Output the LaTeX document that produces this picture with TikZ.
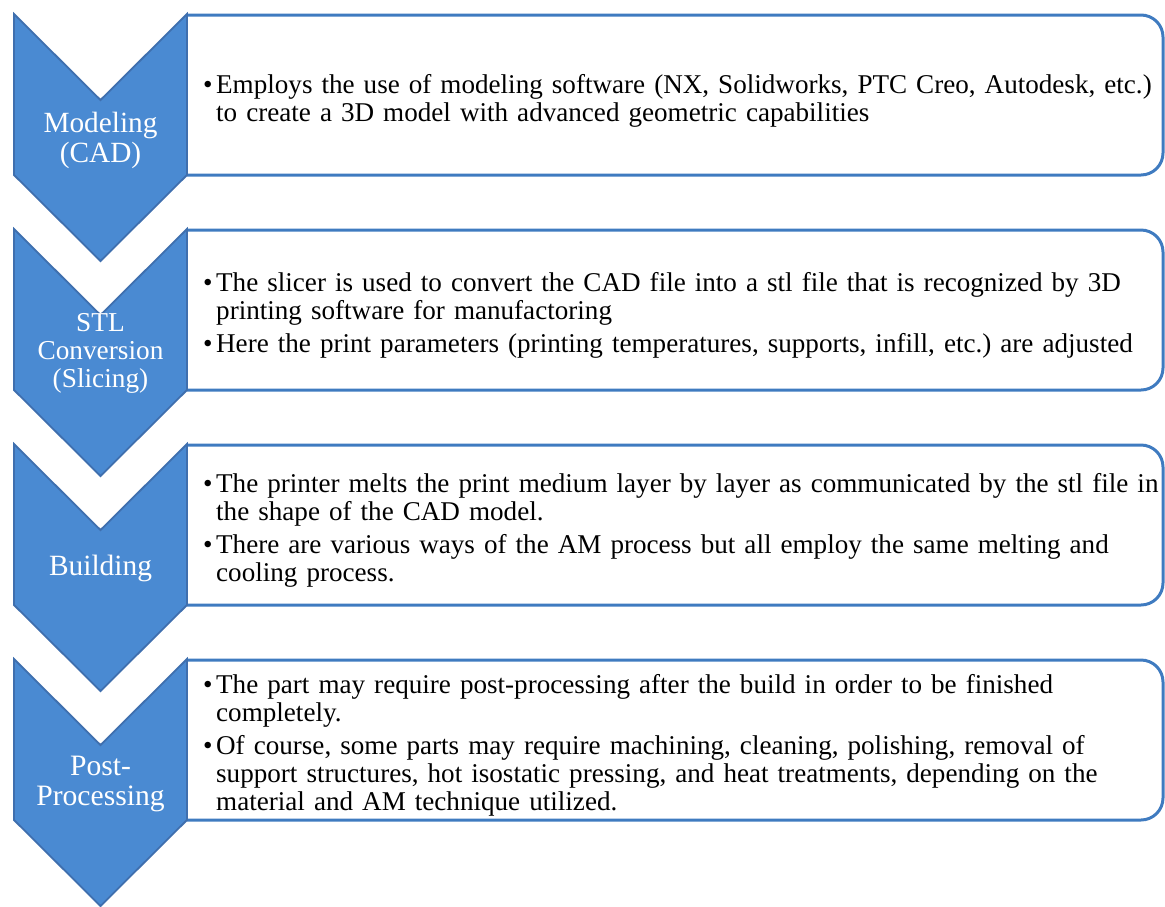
\documentclass[tikz,border=0pt]{standalone}
\usepackage{fontspec}
\setmainfont{Liberation Serif}
\usepackage{xcolor}
\usepackage{tikz}
\definecolor{chevronfill}{HTML}{4A8AD2}
\definecolor{chevronline}{HTML}{3F6FAE}
\definecolor{boxline}{HTML}{3F7BC0}

% one bullet with its hanging lines
\newcommand{\stepitem}[1]{\par\hangindent=13pt\hangafter=1\noindent\makebox[13pt][l]{\textbullet}#1\par}
\newcommand{\stepgap}{\vspace{5pt}}

\tikzset{
  chevron/.style={draw=chevronline, line width=1.8pt, fill=chevronfill, line join=miter},
  stepframe/.style={draw=boxline, line width=3pt, rounded corners=22pt},
  steplabel/.style={text=white, align=center, inner sep=0pt},
  stepdesc/.style={anchor=west, inner sep=0pt, text width=975pt, align=left, font=\fontsize{27.1}{28}\selectfont\frenchspacing},
}

\begin{document}
\begin{tikzpicture}[x=1pt, y=-1pt]%
\useasboundingbox (0,0) rectangle (1165,906);%
% frames first, the chevrons sit on their left edge
\foreach \y in {14, 229, 444, 659} {%
  \draw[stepframe] (187,\y+1) -- (1163,\y+1) -- (1163,\y+161) -- (187,\y+161);%
  \draw[chevron] (14,\y) -- (100.5,\y+86) -- (187,\y) -- (187,\y+161) -- (100.5,\y+247) -- (14,\y+161) -- cycle;%
}%
\node[steplabel, font=\fontsize{29.3}{30}\selectfont] (labModel) at (100.5, 140) {Modeling\\(CAD)};%
\node[steplabel, font=\fontsize{27.3}{28}\selectfont] (labSlice) at (100.5, 353) {STL\\Conversion\\(Slicing)};%
\node[steplabel, font=\fontsize{29.4}{30}\selectfont] (labBuild) at (100.5, 568) {Building};%
\node[steplabel, font=\fontsize{29.6}{30}\selectfont] (labPost) at (100.5, 784) {Post-\\Processing};%
\node[stepdesc] (descModel) at (203, 96) {\stepitem{Employs the use of modeling software (NX, Solidworks, PTC Creo, Autodesk, etc.)\newline to create a 3D model with advanced geometric capabilities}};%
\node[stepdesc] (descSlice) at (203, 311) {\stepitem{The slicer is used to convert the CAD file into a stl file that is recognized by 3D\newline printing software for manufactoring}\stepgap\stepitem{Here the print parameters (printing temperatures, supports, infill, etc.) are adjusted}};%
\node[stepdesc] (descBuild) at (203, 526) {\stepitem{The printer melts the print medium layer by layer as communicated by the stl file in\newline the shape of the CAD model.}\stepgap\stepitem{There are various ways of the AM process but all employ the same melting and\newline cooling process.}};%
\node[stepdesc] (descPost) at (203, 741) {\stepitem{The part may require post-processing after the build in order to be finished\newline completely.}\stepgap\stepitem{Of course, some parts may require machining, cleaning, polishing, removal of\newline support structures, hot isostatic pressing, and heat treatments, depending on the\newline material and AM technique utilized.}};%
\end{tikzpicture}
\end{document}
